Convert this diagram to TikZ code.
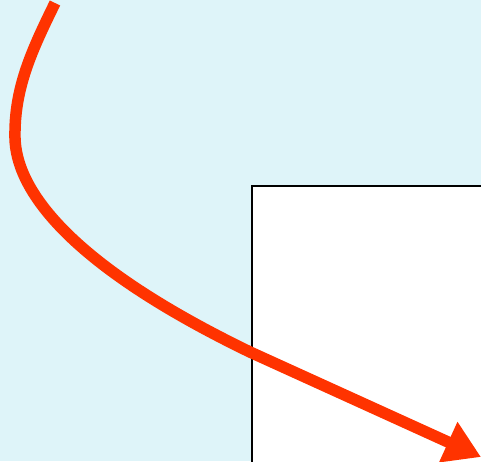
\documentclass[tikz,border=0pt]{standalone}
\definecolor{skyback}{RGB}{222, 244, 249}
\definecolor{flowred}{RGB}{255, 51, 0}
\usetikzlibrary{arrows.meta}

\begin{document}
\begin{tikzpicture}[
        x=1pt, y=-1pt,
        panel/.style={draw=black, line width=1.3pt, fill=white},
        flow/.style={draw=flowred, line width=11.5pt, -{Triangle[length=36pt, width=42pt]}}
    ]
        % Background and frame
        \fill[skyback] (0,0) rectangle (481,461);
        \useasboundingbox (0,0) rectangle (481,461);
        \draw[panel] (252,186) rectangle (490,470);

        % Curved path into the frame
        \coordinate (start) at (55,3);
        \coordinate (turn) at (15,138);
        \coordinate (cross) at (250,352);
        \coordinate (tip) at (481,457);
        \draw[flow] (start) .. controls (32,50) and (14,88) .. (turn)
            .. controls (16,185) and (60,260) .. (cross) -- (tip);
    \end{tikzpicture}
\end{document}
